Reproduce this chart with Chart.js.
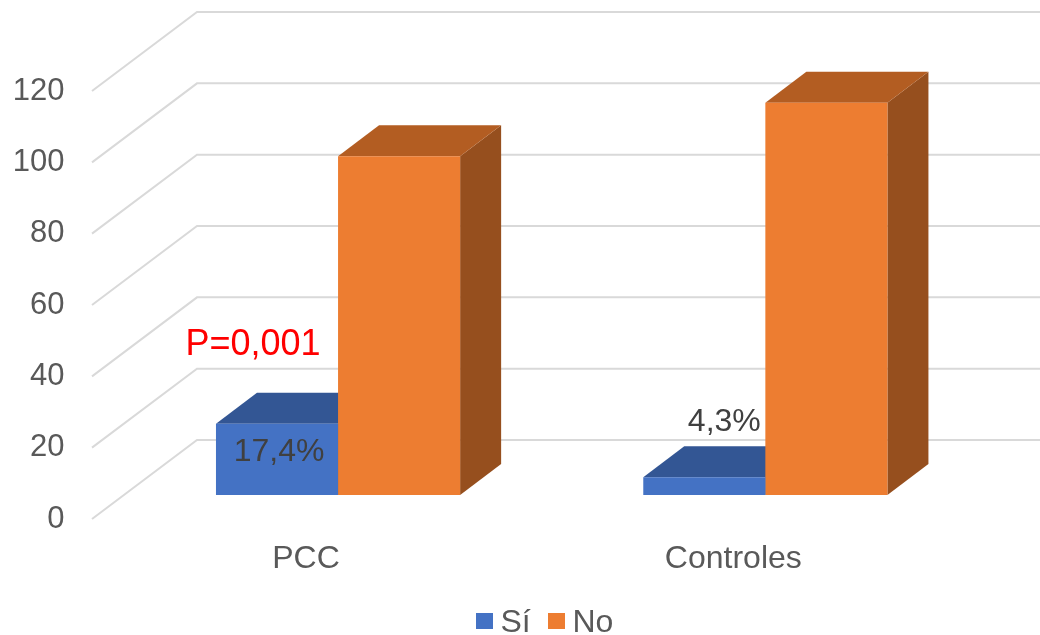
<!DOCTYPE html>
<html>
<head>
<meta charset="utf-8">
<style>
    html, body { margin: 0; padding: 0; background: #fff; overflow: hidden; }
    canvas { display: block; }
</style>
<script src="https://cdn.jsdelivr.net/npm/chart.js@4/dist/chart.umd.min.js"></script>
</head>
<body>
<canvas id="chart" width="1040" height="635"></canvas>
<script>
// data
const categories = ['PCC', 'Controles'];
const siValues = [20, 5];
const noValues = [95, 110];
const siLabels = ['17,4%', '4,3%'];
const pValue = 'P=0,001';
const yTicks = [0, 20, 40, 60, 80, 100, 120];

// colours
const FONT = '"Liberation Sans", Arial, sans-serif';
const TEXT = '#595959';
const GRID = '#D9D9D9';
const faces = {
    'Sí': { front: '#4472C4', top: '#335694', side: '#29457A' },
    'No': { front: '#ED7D31', top: '#B35D22', side: '#964F1E' }
};

// depth of the fake 3d
const WALL_DX = 105, WALL_DY = 79;
const BAR_DX = 41, BAR_DY = 31;

function drawDepth(ctx, bar, c) {
    const l = bar.x - bar.width / 2, r = bar.x + bar.width / 2;
    ctx.fillStyle = c.side;
    ctx.beginPath();
    ctx.moveTo(r, bar.y);
    ctx.lineTo(r + BAR_DX, bar.y - BAR_DY);
    ctx.lineTo(r + BAR_DX, bar.base - BAR_DY);
    ctx.lineTo(r, bar.base);
    ctx.closePath();
    ctx.fill();
    ctx.fillStyle = c.top;
    ctx.beginPath();
    ctx.moveTo(l, bar.y);
    ctx.lineTo(l + BAR_DX, bar.y - BAR_DY);
    ctx.lineTo(r + BAR_DX, bar.y - BAR_DY);
    ctx.lineTo(r, bar.y);
    ctx.closePath();
    ctx.fill();
}

const fake3d = {
    id: 'fake3d',
    beforeDatasetsDraw(chart) {
        const ctx = chart.ctx;
        const scale = chart.scales.y;
        const x0 = 92;
        ctx.save();
        ctx.strokeStyle = GRID;
        ctx.lineWidth = 2;
        yTicks.forEach(v => {
            const py = scale.getPixelForValue(v);
            ctx.beginPath();
            ctx.moveTo(x0, py);
            ctx.lineTo(x0 + WALL_DX, py - WALL_DY);
            ctx.lineTo(chart.width, py - WALL_DY);
            ctx.stroke();
        });
        // tops and sides go in before all front faces, so the orange front hides the blue depth
        chart.data.datasets.forEach((ds, i) => {
            chart.getDatasetMeta(i).data.forEach(bar => drawDepth(ctx, bar, faces[ds.label]));
        });
        ctx.restore();
    },
    afterDraw(chart) {
        const ctx = chart.ctx;
        const bars = chart.getDatasetMeta(0).data;
        ctx.save();
        ctx.textAlign = 'center';
        ctx.textBaseline = 'middle';

        // data labels
        ctx.fillStyle = '#404040';
        ctx.font = '32px ' + FONT;
        ctx.fillText(siLabels[0], bars[0].x + 2, bars[0].y + 29);
        ctx.fillText(siLabels[1], bars[1].x + 20, bars[1].y - 55);

        ctx.fillStyle = '#FF0000';
        ctx.font = '36px ' + FONT;
        ctx.fillText(pValue, bars[0].x - 24, bars[0].y - 79);

        // legend, the built-in one keeps too wide a gap after the box
        ctx.textAlign = 'left';
        ctx.font = '32px ' + FONT;
        let lx = 476;
        chart.data.datasets.forEach(ds => {
            ctx.fillStyle = ds.backgroundColor;
            ctx.fillRect(lx, 613, 17, 16);
            ctx.fillStyle = TEXT;
            ctx.fillText(ds.label, lx + 24.5, 623);
            lx += 72;
        });
        ctx.restore();
    }
};

new Chart(document.getElementById('chart'), {
    type: 'bar',
    data: {
        labels: categories,
        datasets: [
            { label: 'Sí', data: siValues, backgroundColor: faces['Sí'].front, yAxisID: 'yBar' },
            { label: 'No', data: noValues, backgroundColor: faces['No'].front, yAxisID: 'yBar' }
        ]
    },
    options: {
        responsive: false,
        animation: false,
        devicePixelRatio: 1,
        layout: { padding: { top: 91, right: 61, bottom: 0, left: 0 } },
        categoryPercentage: 0.5714,
        barPercentage: 1,
        plugins: { legend: { display: false }, tooltip: { enabled: false } },
        scales: {
            x: {
                grid: { display: false, drawTicks: false },
                border: { display: false },
                afterFit(scale) { scale.height = 116; },
                ticks: {
                    color: TEXT,
                    font: { family: FONT, size: 32 },
                    labelOffset: -32,
                    padding: 21,
                    maxRotation: 0
                }
            },
            y: {
                min: 0,
                max: 120,
                grid: { display: false, drawTicks: false },
                border: { display: false },
                afterFit(scale) { scale.width = 124.4; },
                ticks: {
                    stepSize: 20,
                    color: TEXT,
                    font: { family: FONT, size: 31 },
                    padding: 60
                }
            },
            yBar: {
                display: false,
                min: -6.73,
                max: 113.27
            }
        }
    },
    plugins: [fake3d]
});
</script>
</body>
</html>
